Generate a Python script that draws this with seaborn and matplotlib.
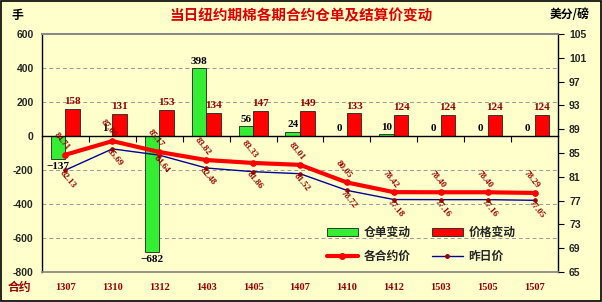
import numpy as np
import pandas as pd
import matplotlib
matplotlib.use("Agg")
import matplotlib.pyplot as plt
import matplotlib.transforms as mtransforms
from matplotlib.patches import Patch
from matplotlib.lines import Line2D
import seaborn as sns

contracts = ["1307", "1310", "1312", "1403", "1405", "1407", "1410", "1412", "1503", "1505", "1507"]
warrant_change = [-137, 1, -682, 398, 56, 24, 0, 10, 0, 0, 0]
price_change = [158, 131, 153, 134, 147, 149, 133, 124, 124, 124, 124]
settle_price = [84.71, 87.00, 85.17, 83.82, 83.33, 83.01, 80.05, 78.42, 78.40, 78.40, 78.29]
prev_price = [82.13, 85.69, 84.64, 82.48, 81.86, 81.52, 78.72, 77.18, 77.16, 77.16, 77.05]
left_ticks = [-800, -600, -400, -200, 0, 200, 400, 600]
right_ticks = [65, 69, 73, 77, 81, 85, 89, 93, 97, 101, 105]

BG = "#FFFFCC"
DARKRED = "#990000"
GREEN = "#33EE33"
RED = "#FF0000"
BLUE = "#000099"

sns.set_theme(style="white")
plt.rcParams["font.family"] = ["Noto Sans CJK SC", "DejaVu Sans"]
plt.rcParams["axes.unicode_minus"] = False

fig = plt.figure(figsize=(6.02, 3.02), dpi=100, facecolor=BG)
ax = fig.add_axes([42/602, 30/302, 516/602, 238/302])
ax.set_facecolor(BG)

df = pd.DataFrame({
    "contract": contracts * 2,
    "value": warrant_change + price_change,
    "series": ["仓单变动"] * len(contracts) + ["价格变动"] * len(contracts),
})
sns.barplot(data=df, x="contract", y="value", hue="series", order=contracts,
            hue_order=["仓单变动", "价格变动"], palette=[GREEN, RED],
            width=0.62, dodge=True, ax=ax, legend=False, errorbar=None,
            edgecolor="#222222", linewidth=0.6, saturation=1)

ax.set_ylim(-800, 600)
ax.set_xlim(-0.5, len(contracts) - 0.5)
ax.set_yticks(left_ticks)
ax.set_yticklabels([str(t) for t in left_ticks], fontsize=7.5, fontweight="bold",
                   family=["Liberation Sans", "DejaVu Sans"])
ax.set_xlabel("")
ax.set_ylabel("")
for t in [-600, -400, -200, 200, 400]:
    ax.axhline(t, color="#999999", lw=0.7, ls=(0, (4, 3)), zorder=0)

# bottom spine at zero with category boundary ticks
ax.spines["bottom"].set_position(("data", 0))
ax.spines["bottom"].set_color("black")
ax.spines["bottom"].set_linewidth(1.0)
ax.set_xticks(np.arange(len(contracts) - 1) + 0.5)
ax.set_xticklabels([])
ax.tick_params(axis="x", direction="out", length=4, width=0.8, color="black", bottom=True)
ax.tick_params(axis="y", direction="out", length=0, pad=6)
ax.spines["left"].set_color("black")
ax.spines["left"].set_linewidth(1.0)
ax.spines["top"].set_color("#888888")
ax.spines["right"].set_visible(False)

# category labels at bottom
blend = mtransforms.blended_transform_factory(ax.transData, ax.transAxes)
for i, c in enumerate(contracts):
    ax.text(i, -0.065, c, transform=blend, ha="center", va="center", color=DARKRED,
            fontsize=7.5, fontweight="bold", family=["Liberation Serif", "DejaVu Serif"])

# bar labels
bars = ax.patches
green_bars = bars[:len(contracts)]
red_bars = bars[len(contracts):2 * len(contracts)]
for b, v in zip(green_bars, warrant_change):
    x = b.get_x() + b.get_width() / 2
    if v >= 0:
        ax.annotate(str(v), (x, v), xytext=(0, 2), textcoords="offset points",
                    ha="center", va="bottom", fontsize=8, fontweight="bold", color="black",
                    family=["Liberation Serif", "DejaVu Serif"])
    else:
        ax.annotate(str(v).replace("-", "−"), (x, v), xytext=(0, -2), textcoords="offset points",
                    ha="center", va="top", fontsize=8, fontweight="bold", color="black",
                    family=["Liberation Serif", "DejaVu Serif"])
for b, v in zip(red_bars, price_change):
    x = b.get_x() + b.get_width() / 2
    ax.annotate(str(v), (x, v), xytext=(0, 2), textcoords="offset points",
                ha="center", va="bottom", fontsize=8, fontweight="bold", color=DARKRED,
                family=["Liberation Serif", "DejaVu Serif"])

# right axis with lines
ax2 = ax.twinx()
ax2.set_facecolor("none")
xpos = np.arange(len(contracts))
sns.lineplot(x=xpos, y=prev_price, ax=ax2, color=BLUE, lw=1.0, marker="o",
             markersize=2.5, markerfacecolor=DARKRED, markeredgecolor=DARKRED, sort=False, zorder=4)
sns.lineplot(x=xpos, y=settle_price, ax=ax2, color=RED, lw=3.0, marker="o",
             markersize=4, markerfacecolor=RED, markeredgecolor=RED, sort=False, zorder=5)
ax2.set_ylim(65, 105)
ax2.set_yticks(right_ticks)
ax2.set_yticklabels([str(t) for t in right_ticks], fontsize=7.5, fontweight="bold",
                    family=["Liberation Sans", "DejaVu Sans"])
ax2.tick_params(axis="y", direction="out", length=4, width=0.8, color="black", right=True, pad=4)
ax2.set_xlim(-0.5, len(contracts) - 0.5)
ax2.set_ylabel("")
ax2.spines["right"].set_color("black")
ax2.spines["right"].set_linewidth(1.0)
ax2.spines["bottom"].set_color("#888888")
ax2.spines["top"].set_color("#888888")
ax2.spines["left"].set_visible(False)

for x, v in zip(xpos, settle_price):
    ax2.annotate(f"{v:.2f}", (x, v), xytext=(0, 2), textcoords="offset points",
                 ha="right", va="bottom", rotation=-50, rotation_mode="anchor",
                 fontsize=6.5, fontweight="bold", color=DARKRED, zorder=6,
                 family=["Liberation Serif", "DejaVu Serif"])
for x, v in zip(xpos, prev_price):
    ax2.annotate(f"{v:.2f}", (x, v), xytext=(-1, 1), textcoords="offset points",
                 ha="left", va="top", rotation=-50, rotation_mode="anchor",
                 fontsize=6.5, fontweight="bold", color=DARKRED, zorder=6,
                 family=["Liberation Serif", "DejaVu Serif"])

# legend
handles = [
    Patch(facecolor=GREEN, edgecolor="#222222", linewidth=0.6, label="仓单变动"),
    Line2D([], [], color=RED, lw=3, marker="o", markersize=4, label="各合约价"),
    Patch(facecolor=RED, edgecolor="#222222", linewidth=0.6, label="价格变动"),
    Line2D([], [], color=BLUE, lw=1, marker="o", markersize=2.5,
           markerfacecolor=DARKRED, markeredgecolor=DARKRED, label="昨日价"),
]
leg = ax2.legend(handles=handles, ncol=2, loc="center", bbox_to_anchor=(0.735, 0.115),
                 frameon=False, handlelength=2.6, handleheight=0.7,
                 columnspacing=1.8, labelspacing=0.9, handletextpad=0.5,
                 prop={"family": ["Noto Sans CJK SC"], "weight": "bold", "size": 8.5})

# titles / unit labels
fig.text(0.5, 1 - 15/302, "当日纽约期棉各期合约仓单及结算价变动", ha="center", va="center",
         color="#DD0000", fontsize=10.5, fontweight="bold")
fig.text(12/602, 1 - 15/302, "手", ha="left", va="center", color="black",
         fontsize=8.5, fontweight="bold")
fig.text(590/602, 1 - 15/302, "美分/磅", ha="right", va="center", color="black",
         fontsize=8.5, fontweight="bold")
fig.text(8/602, 1 - 287/302, "合约", ha="left", va="center", color=DARKRED,
         fontsize=8.5, fontweight="bold")

# outer border
fig.patches.append(plt.Rectangle((0.001, 0.002), 0.997, 0.995, transform=fig.transFigure,
                                 fill=False, edgecolor="black", lw=1.2))

fig.savefig("out.png", dpi=100, facecolor=BG)
